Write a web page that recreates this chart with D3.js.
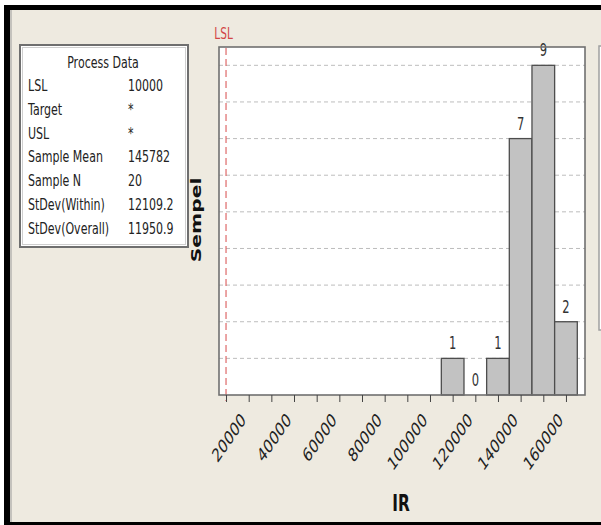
<!DOCTYPE html>
<html>
<head>
<meta charset="utf-8">
<script src="https://cdn.jsdelivr.net/npm/d3@7"></script>
<style>
  html, body { margin: 0; padding: 0; background: #ffffff; }
  svg { display: block; }
</style>
</head>
<body>
<svg id="chart" width="601" height="525"></svg>
<script>
// Capability histogram of IR with the process data summary.
const binStarts = [105000, 115000, 125000, 135000, 145000, 155000];
const binWidth = 10000;
const counts = [1, 0, 1, 7, 9, 2];
const tickValues = [10000, 20000, 30000, 40000, 50000, 60000, 70000, 80000,
                    90000, 100000, 110000, 120000, 130000, 140000, 150000, 160000];
const tickLabels = [20000, 40000, 60000, 80000, 100000, 120000, 140000, 160000];
const gridCounts = [1, 2, 3, 4, 5, 6, 7, 8, 9];
const lsl = 10000;
const processLabels = ["LSL", "Target", "USL", "Sample Mean", "Sample N", "StDev(Within)", "StDev(Overall)"];
const processValues = ["10000", "*", "*", "145782", "20", "12109.2", "11950.9"];

const svg = d3.select("#chart");
const FONT = "'DejaVu Sans', Verdana, sans-serif";
const SX = 0.96, SY = 1.45;

// plot frame
const frame = { left: 219, right: 585, top: 47, bottom: 395 };

const x = d3.scaleLinear().domain([6900, 168400]).range([frame.left, frame.right]);
const y = d3.scaleLinear().domain([0, 9.5]).range([frame.bottom, frame.top]);

// page background and window border
svg.append("rect").attr("x", 0).attr("y", 0).attr("width", 601).attr("height", 525).attr("fill", "#ffffff");
svg.append("rect").attr("x", 10).attr("y", 10).attr("width", 591).attr("height", 512).attr("fill", "#eeeae0");
svg.append("rect").attr("x", 4).attr("y", 5).attr("width", 597).attr("height", 5).attr("fill", "#000");
svg.append("rect").attr("x", 4).attr("y", 5).attr("width", 6).attr("height", 520).attr("fill", "#000");
svg.append("rect").attr("x", 4).attr("y", 522).attr("width", 597).attr("height", 3).attr("fill", "#000");
svg.append("line").attr("x1", 11).attr("x2", 11).attr("y1", 10).attr("y2", 522).attr("stroke", "#9a9a9a").attr("stroke-width", 1);

// edge of the neighbouring panel on the right
svg.append("rect").attr("x", 599).attr("y", 46).attr("width", 10).attr("height", 284)
  .attr("fill", "#ffffff").attr("stroke", "#a0a0a0").attr("stroke-width", 1.5);

// stretched text helper
function stext(parent, tx, ty, str, opts) {
  const o = Object.assign({ size: 11.5, weight: "normal", anchor: "start", fill: "#222", rotate: 0, sx: SX, sy: SY }, opts || {});
  const g = parent.append("g")
    .attr("transform", `translate(${tx},${ty}) scale(${o.sx},${o.sy})` + (o.rotate ? ` rotate(${o.rotate})` : ""));
  g.append("text")
    .attr("x", 0).attr("y", 0)
    .attr("font-family", FONT)
    .attr("font-size", o.size)
    .attr("font-weight", o.weight)
    .attr("text-anchor", o.anchor)
    .attr("fill", o.fill)
    .text(str);
  return g;
}

// Process Data box
const box = svg.append("g");
box.append("rect").attr("x", 20).attr("y", 45).attr("width", 168).attr("height", 202)
  .attr("fill", "#ffffff").attr("stroke", "#6f6f6f").attr("stroke-width", 2);
box.append("rect").attr("x", 22.5).attr("y", 47.5).attr("width", 163).attr("height", 197)
  .attr("fill", "none").attr("stroke", "#cfcfcf").attr("stroke-width", 1);
stext(box, 103, 68, "Process Data", { anchor: "middle" });
processLabels.forEach((lab, i) => {
  const by = 91 + i * 23.8;
  stext(box, 28, by, lab);
  stext(box, 128, by, processValues[i]);
});

// plot area
svg.append("rect").attr("x", frame.left).attr("y", frame.top)
  .attr("width", frame.right - frame.left).attr("height", frame.bottom - frame.top)
  .attr("fill", "#ffffff");

// horizontal dashed grid
svg.append("g").selectAll("line").data(gridCounts).join("line")
  .attr("x1", frame.left).attr("x2", frame.right)
  .attr("y1", d => y(d)).attr("y2", d => y(d))
  .attr("stroke", "#bdbdbd").attr("stroke-width", 1).attr("stroke-dasharray", "4,3");

// histogram bars
const bars = binStarts.map((s, i) => ({ start: s, count: counts[i] }));
svg.append("g").selectAll("rect").data(bars.filter(d => d.count > 0)).join("rect")
  .attr("x", d => x(d.start))
  .attr("y", d => y(d.count))
  .attr("width", d => x(d.start + binWidth) - x(d.start))
  .attr("height", d => y(0) - y(d.count))
  .attr("fill", "#c2c2c2").attr("stroke", "#4d4d4d").attr("stroke-width", 1.3);

// count labels
const labelG = svg.append("g");
bars.forEach(d => {
  stext(labelG, x(d.start + binWidth / 2), y(d.count) - 9, String(d.count),
    { size: 12, anchor: "middle", fill: "#333" });
});

// LSL reference line
svg.append("line")
  .attr("x1", x(lsl)).attr("x2", x(lsl))
  .attr("y1", frame.top + 1).attr("y2", frame.bottom + 6)
  .attr("stroke", "#de6a6a").attr("stroke-width", 1.2).attr("stroke-dasharray", "7,4");
stext(svg, x(lsl) - 2.5, 39, "LSL", { size: 11, anchor: "middle", fill: "#d24545" });

// frame border
svg.append("rect").attr("x", frame.left).attr("y", frame.top)
  .attr("width", frame.right - frame.left).attr("height", frame.bottom - frame.top)
  .attr("fill", "none").attr("stroke", "#707070").attr("stroke-width", 1.6);

// x axis ticks and labels
const xAxis = d3.axisBottom(x).tickValues(tickValues).tickSize(7).tickFormat("");
const axG = svg.append("g").attr("transform", `translate(0,${frame.bottom})`).call(xAxis);
axG.select(".domain").remove();
axG.selectAll(".tick line").attr("stroke", "#444").attr("stroke-width", 1);

const tlG = svg.append("g");
tickLabels.forEach(v => {
  stext(tlG, x(v) - 2, 421, String(v), { size: 13, anchor: "end", fill: "#222", rotate: -45, sx: 1, sy: SY });
});

// axis titles
stext(svg, 201, 220, "Sempel", { size: 14, weight: "bold", anchor: "middle", rotate: -90, sx: 1, sy: SY, fill: "#111" });
stext(svg, 401, 511, "IR", { size: 16, weight: "bold", anchor: "middle", sx: SX, sy: 1.4, fill: "#111" });
</script>
</body>
</html>
